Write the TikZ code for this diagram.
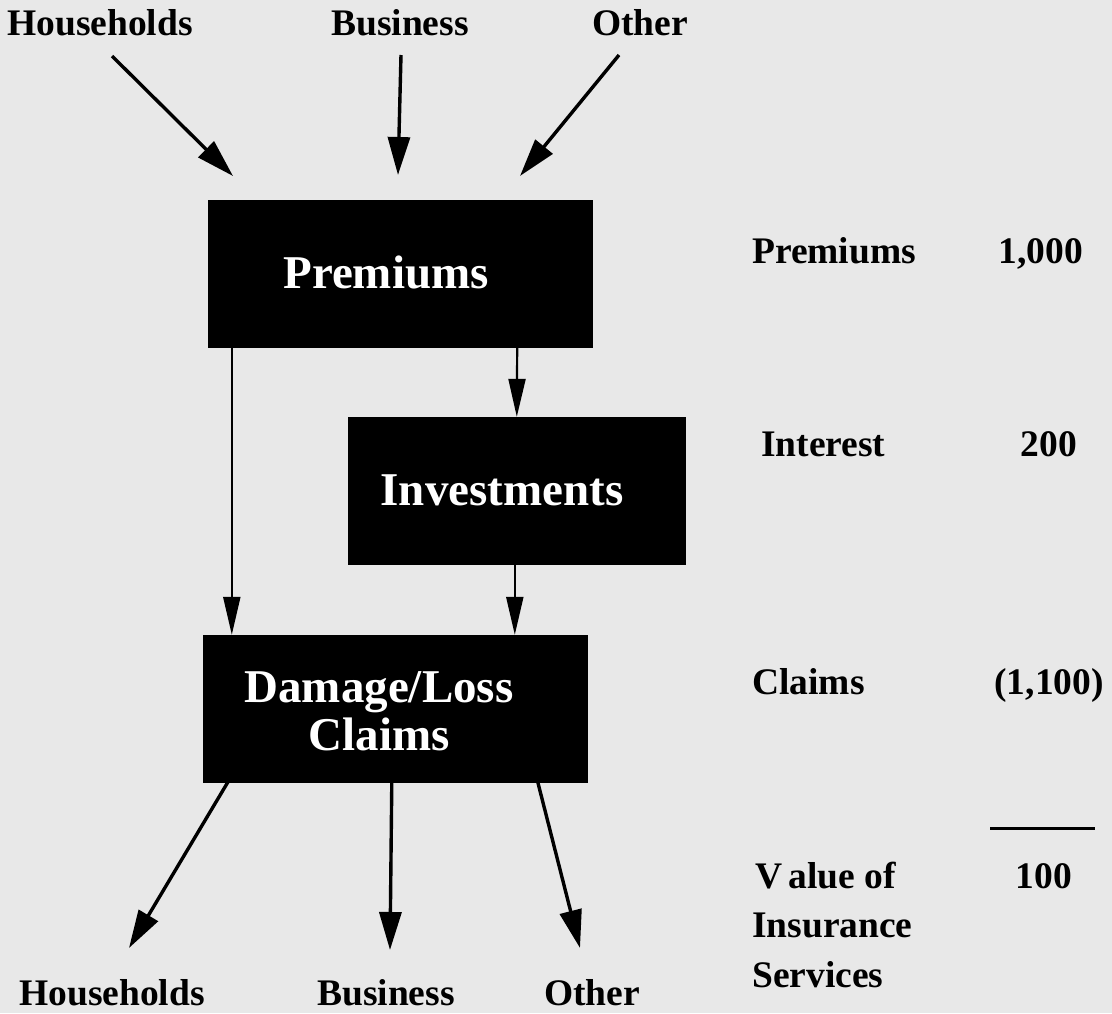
\documentclass[tikz,border=0pt]{standalone}
\usepackage{fontspec}
\setmainfont{Liberation Serif}
\usetikzlibrary{arrows.meta}
\begin{document}
\begin{tikzpicture}[x=1pt,y=-1pt,
  box/.style={fill=black,draw=black,inner sep=0pt},
  boxtext/.style={text=white,font=\fontsize{47}{48}\selectfont\bfseries,anchor=base,inner sep=0pt,align=center},
  lbl/.style={font=\fontsize{37.5}{48}\selectfont\bfseries,anchor=base,inner sep=0pt},
  lblw/.style={lbl,anchor=base west},
  num/.style={lbl,anchor=base east},
  flow/.style={line width=3.4pt,-{Triangle[length=38pt,width=22pt]}},
  link/.style={line width=2.2pt,-{Triangle[length=38pt,width=17pt]}}]
\useasboundingbox[fill=black!9] (0,0) rectangle (1112,1013);

% boxes
\node[box,minimum width=384pt,minimum height=147pt] (prem) at (400,273.5) {};
\node[box,minimum width=337pt,minimum height=147pt] (inv) at (516.5,490.5) {};
\node[box,minimum width=384pt,minimum height=147pt] (dmg) at (395,708.5) {};
\node[boxtext] (premT) at (386,288) {Premiums};
\node[boxtext] (invT) at (502,505) {Investments};
\node[boxtext,anchor=center] (dmgT) at (379,711) {Damage/Loss\\Claims};

% payers
\node[lbl] (hhTop) at (100,35) {Households};
\node[lbl] (buTop) at (400,35) {Business};
\node[lbl] (otTop) at (640,35) {Other};
\coordinate (hhS) at (112,56);  \coordinate (hhE) at (233,176);
\coordinate (buS) at (401,55);  \coordinate (buE) at (398,175);
\coordinate (otS) at (619,55);  \coordinate (otE) at (520,176);
\draw[flow] (hhS) -- (hhE);
\draw[flow] (buS) -- (buE);
\draw[flow] (otS) -- (otE);

% internal flows
\draw[link] ([xshift=24pt]prem.south west) -- ([xshift=29pt]dmg.north west);
\draw[link] ([xshift=-75pt]prem.south east) -- ([xshift=169pt]inv.north west);
\draw[link] ([xshift=167pt]inv.south west) -- ([xshift=312pt]dmg.north west);

% claim recipients
\node[lbl] (hhBot) at (112,1005) {Households};
\node[lbl] (buBot) at (386,1005) {Business};
\node[lbl] (otBot) at (592,1005) {Other};
\coordinate (hhB) at (129,948);
\coordinate (buB) at (390,950);
\coordinate (otB) at (580,948);
\draw[flow] ([xshift=25pt]dmg.south west) -- (hhB);
\draw[flow] ([xshift=189pt]dmg.south west) -- (buB);
\draw[flow] ([xshift=335pt]dmg.south west) -- (otB);

% account
\node[lblw] (aPrem) at (752,263) {Premiums};
\node[num] (vPrem) at (1083,263) {1,000};
\node[lblw] (aInt) at (761,456) {Interest};
\node[num] (vInt) at (1077,456) {200};
\node[lblw] (aCl) at (752,694) {Claims};
\node[num] (vCl) at (1104,694) {(1,100)};
\coordinate (ruleL) at (990,828);
\coordinate (ruleR) at (1095,828);
\draw[line width=3pt] (ruleL) -- (ruleR);
\node[lblw] (aVal1) at (755,888) {V\,alue of};
\node[num] (vVal) at (1072,888) {100};
\node[lblw] (aVal2) at (752,937) {Insurance};
\node[lblw] (aVal3) at (752,987) {Services};
\end{tikzpicture}
\end{document}
